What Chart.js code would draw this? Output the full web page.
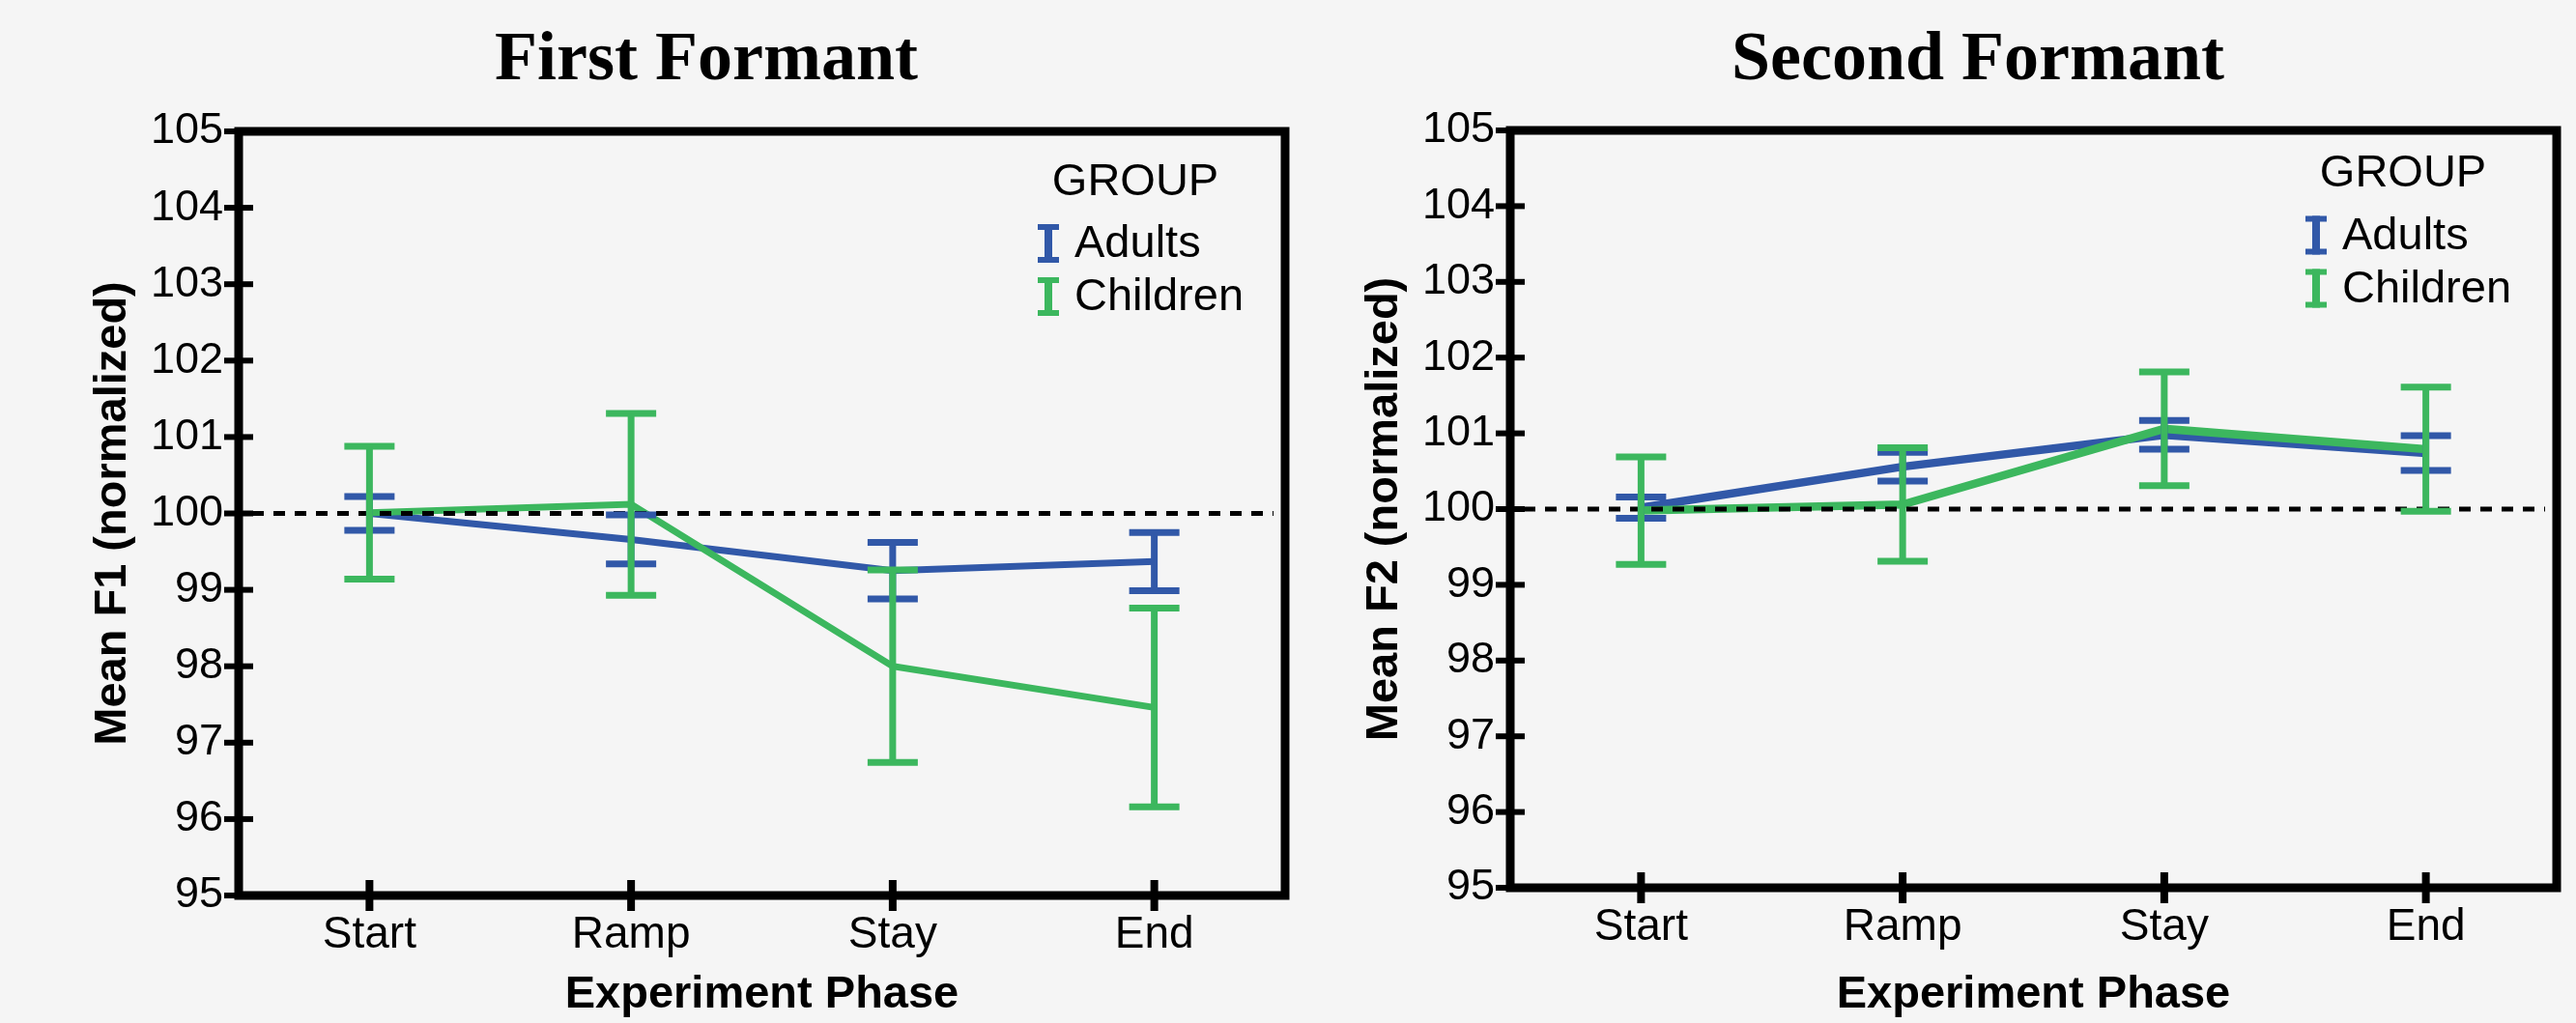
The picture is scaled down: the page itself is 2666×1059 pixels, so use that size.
<!DOCTYPE html>
<html>
<head>
<meta charset="utf-8">
<title>First and Second Formant</title>
<script src="https://cdn.jsdelivr.net/npm/chart.js@4.4.0/dist/chart.umd.min.js"></script>
<style>
    html, body { margin: 0; padding: 0; background: #f5f5f5; overflow: hidden; }
    .panel { position: absolute; top: 0; height: 1059px; }
    #left { left: 0; width: 1340px; }
    #right { left: 1340px; width: 1326px; }
</style>
</head>
<body>
<div class="panel" id="left"><canvas id="f1Chart" width="1340" height="1059"></canvas></div>
<div class="panel" id="right"><canvas id="f2Chart" width="1326" height="1059"></canvas></div>
<script>
// Data
const phases = ['Start', 'Ramp', 'Stay', 'End'];
const groups = ['Adults', 'Children'];
const yMin = 95;
const yMax = 105;
const refValue = 100;

// First formant (F1)
const f1Adults = [100.0, 99.66, 99.25, 99.37];
const f1AdultsErr = [0.22, 0.32, 0.37, 0.38];
const f1Children = [100.01, 100.12, 98.0, 97.46];
const f1ChildrenErr = [0.87, 1.19, 1.26, 1.3];

// Second formant (F2)
const f2Adults = [100.02, 100.56, 100.98, 100.74];
const f2AdultsErr = [0.14, 0.19, 0.19, 0.23];
const f2Children = [99.98, 100.06, 101.06, 100.79];
const f2ChildrenErr = [0.71, 0.75, 0.75, 0.82];

const blue = '#3158a8';
const green = '#3cb75e';

Chart.defaults.font.family = '"Liberation Sans", Arial, sans-serif';
Chart.defaults.color = '#000';

// dashed line, error bars, box + ticks, title and legend
const formantPlugin = {
    id: 'formant',
    afterDatasetsDraw(chart, args, opts) {
        const { ctx, chartArea: a } = chart;
        const x = chart.scales.x;
        const y = chart.scales.y;
        ctx.save();

        // reference line at 100
        const yRef = y.getPixelForValue(refValue);
        ctx.strokeStyle = '#000';
        ctx.lineWidth = 5;
        ctx.setLineDash([12, 10]);
        ctx.beginPath();
        ctx.moveTo(a.left + 14, yRef);
        ctx.lineTo(a.right - 12, yRef);
        ctx.stroke();
        ctx.setLineDash([]);

        // error bars (adults first, children on top)
        chart.data.datasets.forEach(ds => {
            ctx.strokeStyle = ds.borderColor;
            ctx.lineCap = 'butt';
            ds.data.forEach((v, j) => {
                const px = x.getPixelForValue(j);
                const top = y.getPixelForValue(v + ds.errors[j]);
                const bot = y.getPixelForValue(v - ds.errors[j]);
                ctx.lineWidth = 7;
                ctx.beginPath();
                ctx.moveTo(px, top);
                ctx.lineTo(px, bot);
                ctx.moveTo(px - 26, top);
                ctx.lineTo(px + 26, top);
                ctx.moveTo(px - 26, bot);
                ctx.lineTo(px + 26, bot);
                ctx.stroke();
            });
        });

        // box around plot
        ctx.strokeStyle = '#000';
        ctx.lineWidth = 9;
        ctx.strokeRect(a.left, a.top, a.right - a.left, a.bottom - a.top);

        // tick marks crossing the axes
        ctx.lineWidth = 6;
        y.ticks.forEach(t => {
            const py = y.getPixelForValue(t.value);
            ctx.beginPath();
            ctx.moveTo(a.left - 15, py);
            ctx.lineTo(a.left + 15, py);
            ctx.stroke();
        });
        ctx.lineWidth = 8;
        x.ticks.forEach((t, j) => {
            const px = x.getPixelForTick(j);
            ctx.beginPath();
            ctx.moveTo(px, a.bottom - 16);
            ctx.lineTo(px, a.bottom + 16);
            ctx.stroke();
        });
        ctx.restore();
    },
    afterDraw(chart, args, opts) {
        const ctx = chart.ctx;
        ctx.save();
        ctx.fillStyle = '#000';
        ctx.textBaseline = 'middle';

        // title
        ctx.textAlign = 'center';
        ctx.font = 'bold 72px "Liberation Serif", "DejaVu Serif", serif';
        ctx.fillText(opts.title, opts.titleX, 63);

        // legend
        const lg = opts.legend;
        ctx.font = '47px "Liberation Sans", Arial, sans-serif';
        ctx.fillText('GROUP', lg.groupX, lg.groupY);
        ctx.textAlign = 'left';
        chart.data.datasets.forEach((ds, i) => {
            const cy = lg.rowY[i];
            ctx.fillStyle = ds.borderColor;
            ctx.fillRect(lg.symX - 11, cy - 20, 22, 6);
            ctx.fillRect(lg.symX - 4, cy - 20, 8, 40);
            ctx.fillRect(lg.symX - 11, cy + 14, 22, 6);
            ctx.fillStyle = '#000';
            ctx.fillText(ds.label, lg.textX, cy + 1.5);
        });
        ctx.restore();
    }
};

function makeChart(id, cfg) {
    const ctx = document.getElementById(id).getContext('2d');
    return new Chart(ctx, {
        type: 'line',
        data: {
            labels: phases,
            datasets: [{
                label: groups[0],
                data: cfg.adults,
                errors: cfg.adultsErr,
                borderColor: blue,
                borderWidth: cfg.lineWidth,
                pointRadius: 0,
                fill: false,
                order: 1
            }, {
                label: groups[1],
                data: cfg.children,
                errors: cfg.childrenErr,
                borderColor: green,
                borderWidth: cfg.lineWidth,
                pointRadius: 0,
                fill: false,
                order: 0
            }]
        },
        options: {
            responsive: false,
            animation: false,
            layout: {
                padding: { top: cfg.top, right: cfg.padRight, left: 0, bottom: 0 }
            },
            plugins: {
                legend: { display: false },
                tooltip: { enabled: false },
                formant: {
                    title: cfg.title,
                    titleX: cfg.titleX,
                    legend: cfg.legend
                }
            },
            scales: {
                x: {
                    offset: true,
                    grid: { display: false, drawTicks: false },
                    border: { display: false },
                    ticks: { font: { size: 46 }, padding: 14, color: '#000' },
                    title: {
                        display: true,
                        text: 'Experiment Phase',
                        font: { size: 47, weight: 'bold' },
                        padding: { top: 0, bottom: 1 }
                    },
                    afterFit: s => { s.height = cfg.xHeight; }
                },
                y: {
                    min: yMin,
                    max: yMax,
                    grid: { display: false, drawTicks: false },
                    border: { display: false },
                    ticks: { stepSize: 1, font: { size: 45 }, padding: 16, color: '#000' },
                    title: {
                        display: true,
                        text: cfg.yTitle,
                        font: { size: 47, weight: 'bold' },
                        padding: { top: cfg.yTitlePad, bottom: 0 }
                    },
                    afterFit: s => { s.width = cfg.yWidth; }
                }
            }
        },
        plugins: [formantPlugin]
    });
}

makeChart('f1Chart', {
    title: 'First Formant',
    titleX: 731,
    yTitle: 'Mean F1 (normalized)',
    adults: f1Adults, adultsErr: f1AdultsErr,
    children: f1Children, childrenErr: f1ChildrenErr,
    lineWidth: 7,
    top: 136, padRight: 10, xHeight: 132, yWidth: 247, yTitlePad: 89,
    legend: { groupX: 1175, groupY: 189, symX: 1085, textX: 1112, rowY: [252, 307] }
});

makeChart('f2Chart', {
    title: 'Second Formant',
    titleX: 707,
    yTitle: 'Mean F2 (normalized)',
    adults: f2Adults, adultsErr: f2AdultsErr,
    children: f2Children, childrenErr: f2ChildrenErr,
    lineWidth: 8.5,
    top: 135, padRight: 20, xHeight: 140, yWidth: 223, yTitlePad: 65,
    legend: { groupX: 1147, groupY: 180, symX: 1057, textX: 1084, rowY: [243.5, 298.5] }
});
</script>
</body>
</html>
